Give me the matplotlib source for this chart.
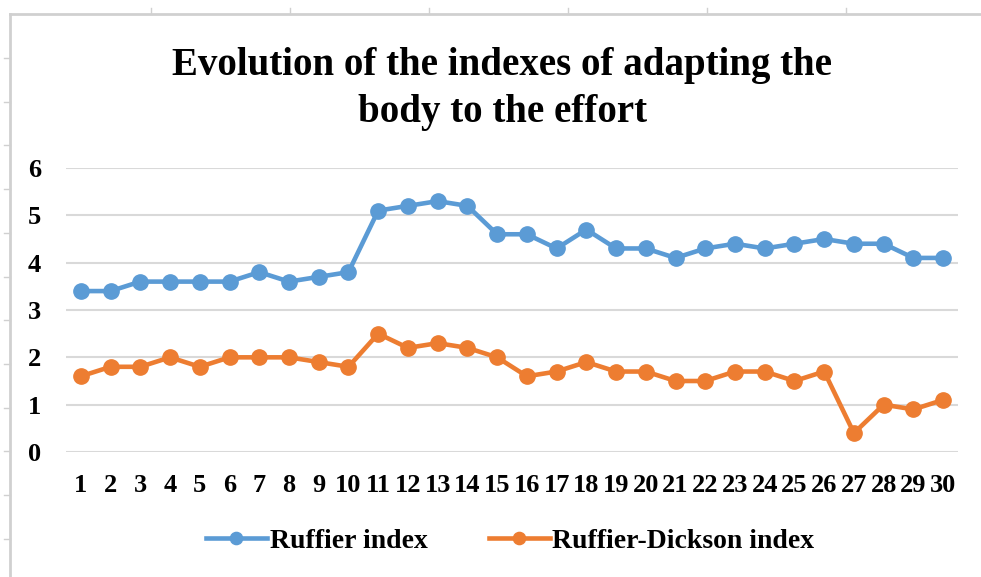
import numpy as np
import matplotlib
matplotlib.use("Agg")
import matplotlib.pyplot as plt
from matplotlib.lines import Line2D

# Data
subjects = list(range(1, 31))
ruffier = [3.4, 3.4, 3.6, 3.6, 3.6, 3.6, 3.8, 3.6, 3.7, 3.8,
           5.1, 5.2, 5.3, 5.2, 4.6, 4.6, 4.3, 4.7, 4.3, 4.3,
           4.1, 4.3, 4.4, 4.3, 4.4, 4.5, 4.4, 4.4, 4.1, 4.1]
ruffier_dickson = [1.6, 1.8, 1.8, 2.0, 1.8, 2.0, 2.0, 2.0, 1.9, 1.8,
                   2.5, 2.2, 2.3, 2.2, 2.0, 1.6, 1.7, 1.9, 1.7, 1.7,
                   1.5, 1.5, 1.7, 1.7, 1.5, 1.7, 0.4, 1.0, 0.9, 1.1]
y_ticks = [0, 1, 2, 3, 4, 5, 6]

blue = "#5B9BD5"
orange = "#ED7D31"
serif = "Liberation Serif"

fig = plt.figure(figsize=(9.81, 5.77), dpi=100)

# spreadsheet frame behind the chart
fig.add_artist(Line2D([10 / 981, 1], [1 - 14 / 577] * 2, color="#D0D0D0", lw=2))
fig.add_artist(Line2D([10 / 981] * 2, [0, 1 - 14 / 577], color="#D0D0D0", lw=2))
for yy in np.arange(58, 577, 43.7):
    fig.add_artist(Line2D([4 / 981, 10 / 981], [1 - yy / 577] * 2, color="#D0D0D0", lw=1))
for xx in np.arange(151, 981, 139):
    fig.add_artist(Line2D([xx / 981] * 2, [1 - 14 / 577, 1 - 8 / 577], color="#D0D0D0", lw=1))

ax = fig.add_axes([66 / 981, 1 - 452 / 577, (958 - 66) / 981, (452 - 168) / 577])

ax.plot(subjects, ruffier, color=blue, lw=3.3, marker="o", ms=11, label="Ruffier index")
ax.plot(subjects, ruffier_dickson, color=orange, lw=3.3, marker="o", ms=11,
        label="Ruffier-Dickson index")

ax.set_xlim(0.5, 30.5)
ax.set_ylim(0, 6)
ax.set_yticks(y_ticks)
ax.set_xticks(subjects)
ax.grid(axis="y", color="#D9D9D9", lw=1.5)
ax.set_axisbelow(True)
for s in ax.spines.values():
    s.set_visible(False)
ax.tick_params(length=0)
ax.tick_params(axis="x", pad=16)
ax.tick_params(axis="y", pad=18)
for lab in ax.get_xticklabels():
    lab.set_fontfamily(serif)
    lab.set_fontweight("bold")
    lab.set_fontsize(19)
for lab in ax.get_yticklabels():
    lab.set_fontfamily(serif)
    lab.set_fontweight("bold")
    lab.set_fontsize(19)

fig.text(0.512, 1 - 89 / 577, "Evolution of the indexes of adapting the\nbody to the effort",
         ha="center", va="center", fontfamily=serif, fontweight="bold", fontsize=28,
         linespacing=1.35)

fig.legend(loc="center", bbox_to_anchor=(0.52, 1 - 541 / 577), ncol=2, frameon=False,
           prop={"family": serif, "weight": "bold", "size": 20},
           handlelength=2.2, handletextpad=0.1, columnspacing=2.2, markerscale=0.8)

fig.savefig("out.png", dpi=100)
